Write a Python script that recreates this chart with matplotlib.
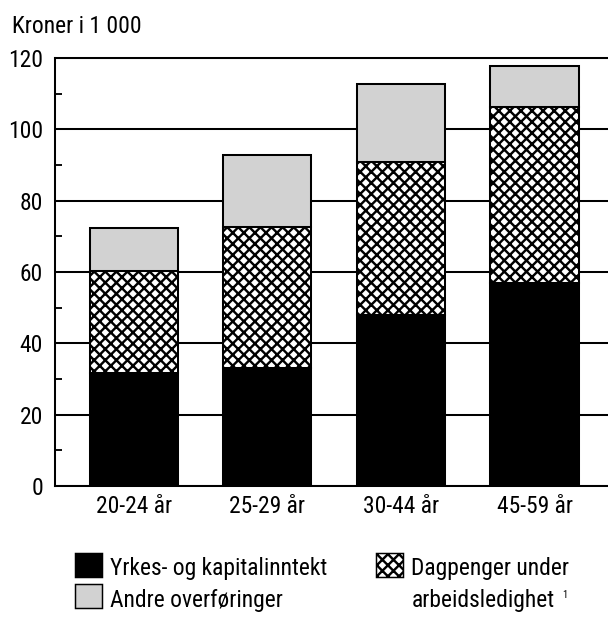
import matplotlib
matplotlib.use('Agg')
import numpy as np
from matplotlib import pyplot as plt
from matplotlib import font_manager
from matplotlib.patches import Rectangle

# data (kroner i 1 000)
groups = ['20-24 år', '25-29 år', '30-44 år', '45-59 år']
yrkes = [31.7, 33.1, 47.9, 56.9]
dagpenger = [28.6, 39.5, 42.9, 49.4]
andre = [12.0, 20.2, 21.9, 11.5]

legend_labels = ['Yrkes- og kapitalinntekt', 'Andre overføringer',
                 'Dagpenger under', 'arbeidsledighet']

W, H = 608, 620
DPI = 133.33

# narrow helvetica-like face, first one that is installed
names = {f.name for f in font_manager.fontManager.ttflist}
family = 'Liberation Sans'
for cand in ['Nimbus Sans Narrow', 'Liberation Sans Narrow', 'Roboto Condensed',
             'Archivo Narrow', 'PT Sans Narrow']:
    if cand in names:
        family = cand
        break
plt.rcParams['font.family'] = [family, 'DejaVu Sans']
plt.rcParams['hatch.linewidth'] = 1.3

FS = 23.5 * 72 / DPI  # ~23.5 px text


def px(x, y):
    # pixel position (from top left) -> figure fraction
    return x / W, 1 - y / H


fig = plt.figure(figsize=(W / DPI, H / DPI), dpi=DPI)
ax = fig.add_axes([55 / W, 1 - 486 / H, (W - 55) / W, (486 - 58) / H])

x = np.arange(len(groups))
bw = 0.66
lw = 1.1
ax.bar(x, yrkes, bw, color='black', edgecolor='black', linewidth=lw, zorder=3)
ax.bar(x, dagpenger, bw, bottom=yrkes, color='white', edgecolor='black',
       hatch='xxxx', linewidth=lw, zorder=3)
bot2 = np.array(yrkes) + np.array(dagpenger)
ax.bar(x, andre, bw, bottom=bot2, color='#d2d2d2', edgecolor='black',
       linewidth=lw, zorder=3)

ax.set_xlim(-0.59, 3.55)
ax.set_ylim(0, 120)
ax.set_yticks(range(0, 121, 20))
ax.set_yticks(range(10, 120, 20), minor=True)
ax.yaxis.grid(True, color='black', linewidth=lw)
ax.set_axisbelow(True)
ax.tick_params(axis='y', which='major', length=0, pad=6.5, labelsize=FS)
ax.tick_params(axis='y', which='minor', direction='in', length=3.8, width=1)
ax.set_xticks(x)
ax.set_xticklabels(groups)
ax.tick_params(axis='x', length=0, pad=5, labelsize=FS)

ax.spines['right'].set_visible(False)
for s in ['left', 'bottom', 'top']:
    ax.spines[s].set_linewidth(lw)

fig.text(*px(12, 33), 'Kroner i 1 000', fontsize=FS, va='baseline', ha='left')

# legend drawn by hand
sqw, sqh = 27, 24
boxes = [(75, 553, 'black', None, legend_labels[0], 575),
         (75, 584, '#d2d2d2', None, legend_labels[1], 607),
         (376, 553, 'white', 'xxxx', legend_labels[2], 575)]
for bx, by, fc, hatch, lab, base in boxes:
    fx, fy = px(bx, by + sqh)
    fig.add_artist(Rectangle((fx, fy), sqw / W, sqh / H, transform=fig.transFigure,
                             facecolor=fc, edgecolor='black', hatch=hatch,
                             linewidth=0.8))
    fig.text(*px(bx + 35, base), lab, fontsize=FS, va='baseline', ha='left')

t = fig.text(*px(412, 607), legend_labels[3], fontsize=FS, va='baseline', ha='left')
# footnote mark just after the second line
fig.canvas.draw()
end = t.get_window_extent().x1
fig.text((end + 7) / W, 1 - 598 / H, '1', fontsize=FS * 0.45, va='baseline', ha='left')

fig.savefig('out.png', dpi=DPI)
